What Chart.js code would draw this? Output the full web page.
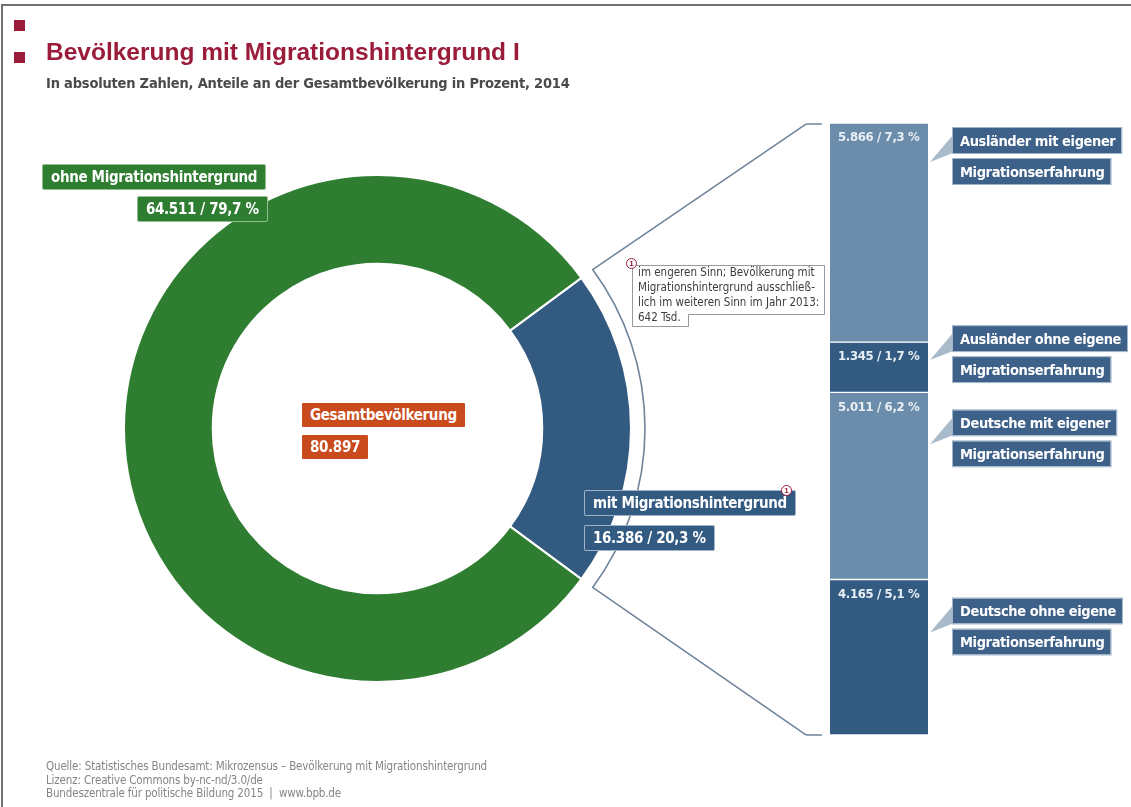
<!DOCTYPE html>
<html lang="de">
<head>
<meta charset="utf-8">
<script src="https://cdn.jsdelivr.net/npm/chart.js@4.4.1/dist/chart.umd.min.js"></script>
<style>
  body { margin: 0; background: #fff; }
  #page { position: relative; width: 1131px; height: 807px; overflow: hidden; background: #fff;
          font-family: "Liberation Sans", Arial, sans-serif; }
  #frame { position: absolute; left: 1px; top: 4px; right: -4px; bottom: -4px;
           border-left: 2px solid #707070; border-top: 2px solid #707070; }
  canvas { position: absolute; left: 0; top: 0; }
  .sq { position: absolute; left: 14px; width: 11px; height: 11px; background: #9b1b3a; }
  #title { position: absolute; left: 46px; top: 38px; font: bold 24.5px "Liberation Sans", Arial, sans-serif;
           color: #9b1b3a; white-space: nowrap; }
  #subtitle { position: absolute; left: 46px; top: 75px; font: bold 14.5px "DejaVu Sans Condensed", sans-serif;
              letter-spacing: -0.2px; color: #4a4a4a; white-space: nowrap; }
  #footer { position: absolute; left: 46px; top: 760px; font: 11.5px/13.5px "DejaVu Sans Condensed", sans-serif;
            letter-spacing: -0.15px; color: #858585; white-space: nowrap; }
  .tag { position: absolute; height: 24px; padding: 0 8px; color: #fff; white-space: nowrap; overflow: hidden;
         font: bold 15px/25px "DejaVu Sans Condensed", sans-serif; letter-spacing: -0.35px; border-radius: 1px; }
  .green { background: #2e7d31; box-shadow: 0 0 0 1px #8fbf90; }
  .orange { background: #c94a1c; }
  .blue { background: #335b82; box-shadow: 0 0 0 1px #9fb4c8; }
  .fn { position: absolute; width: 9px; height: 9px; border: 1.5px solid #9b1b3a; border-radius: 50%; background: #fff;
        color: #9b1b3a; font: bold 8px/9px "Liberation Sans", Arial, sans-serif; text-align: center; }
  #note { position: absolute; left: 638px; top: 265px; font: 11.5px/15px "DejaVu Sans Condensed", sans-serif;
          color: #3c3c3c; white-space: nowrap; }
  svg { position: absolute; left: 0; top: 0; }
</style>
</head>
<body>
<div id="page">
  <div id="frame"></div>
  <canvas id="donut" width="1131" height="807"></canvas>
  <canvas id="stack" width="1131" height="807"></canvas>
  <div class="sq" style="top:20px"></div>
  <div class="sq" style="top:52px"></div>
  <div id="title">Bevölkerung mit Migrationshintergrund I</div>
  <div id="subtitle">In absoluten Zahlen, Anteile an der Gesamtbevölkerung in Prozent, 2014</div>

  <div id="lblOhne" class="tag green" style="left:43px; top:165px"></div>
  <div id="valOhne" class="tag green" style="left:138px; top:197px"></div>
  <div id="lblTotal" class="tag orange" style="left:302px; top:403px"></div>
  <div id="valTotal" class="tag orange" style="left:302px; top:435px"></div>
  <div id="lblMit" class="tag blue" style="left:585px; top:491px"></div>
  <div id="valMit" class="tag blue" style="left:585px; top:526px"></div>
  <div class="fn" style="left:781px; top:485px">1</div>

  <svg width="1131" height="807"><path d="M632.5,265.5 H824.5 V314.5 H688.5 V326.5 H632.5 Z" fill="#fff" stroke="#9a9a9a" stroke-width="1"/></svg>
  <div id="note"></div>
  <div class="fn" style="left:626px; top:258px">1</div>

  <div id="footer"></div>
</div>
<script>
// Werte in Tausend
const mainLabels = ['mit Migrationshintergrund', 'ohne Migrationshintergrund'];
const mainValues = [16386, 64511];
const mainShares = [20.3, 79.7];
const totalLabel = 'Gesamtbevölkerung';
const totalValue = 80897;

const subLabels = [
  ['Ausländer mit eigener', 'Migrationserfahrung'],
  ['Ausländer ohne eigene', 'Migrationserfahrung'],
  ['Deutsche mit eigener', 'Migrationserfahrung'],
  ['Deutsche ohne eigene', 'Migrationserfahrung']
];
const subValues = [5866, 1345, 5011, 4165];
const subShares = [7.3, 1.7, 6.2, 5.1];

const noteLines = [
  'im engeren Sinn; Bevölkerung mit',
  'Migrationshintergrund ausschließ-',
  'lich im weiteren Sinn im Jahr 2013:',
  '642 Tsd.'
];
const footerLines = [
  'Quelle: Statistisches Bundesamt: Mikrozensus – Bevölkerung mit Migrationshintergrund',
  'Lizenz: Creative Commons by-nc-nd/3.0/de',
  'Bundeszentrale für politische Bildung 2015 &nbsp;|&nbsp; www.bpb.de'
];

const NARROW = '"DejaVu Sans Condensed", sans-serif';
const fmt = v => String(v).replace(/\B(?=(\d{3})+(?!\d))/g, '.');
const pct = v => v.toFixed(1).replace('.', ',') + ' %';

// texts
document.getElementById('lblOhne').textContent = mainLabels[1];
document.getElementById('valOhne').textContent = fmt(mainValues[1]) + ' / ' + pct(mainShares[1]);
document.getElementById('lblMit').textContent = mainLabels[0];
document.getElementById('valMit').textContent = fmt(mainValues[0]) + ' / ' + pct(mainShares[0]);
document.getElementById('lblTotal').textContent = totalLabel;
document.getElementById('valTotal').textContent = fmt(totalValue);
document.getElementById('note').innerHTML = noteLines.join('<br>');
document.getElementById('footer').innerHTML = footerLines.join('<br>');

// blue slice centred on 3 o'clock
const mitAngle = mainValues[0] / (mainValues[0] + mainValues[1]) * 360;

const donut = new Chart(document.getElementById('donut'), {
  type: 'doughnut',
  data: {
    labels: mainLabels,
    datasets: [{
      data: mainValues,
      backgroundColor: ['#335b82', '#2e7d31'],
      borderColor: '#fff',
      borderWidth: 2
    }]
  },
  options: {
    responsive: false,
    animation: false,
    rotation: 90 - mitAngle / 2,
    cutout: '65%',
    layout: { padding: { left: 123, top: 174, right: 499, bottom: 124 } },
    plugins: { legend: { display: false }, tooltip: { enabled: false } }
  }
});

const calloutShift = [5, -16, 18, 19];

const stackDeco = {
  id: 'stackDeco',
  beforeDatasetsDraw(chart) {
    // Verbindungslinie vom blauen Segment zum Balken
    const arc = donut.getDatasetMeta(0).data[0];
    const ctx = chart.ctx;
    const area = chart.chartArea;
    const r = arc.outerRadius + 14;
    const top = area.top + 1, bot = area.bottom;
    const sx = arc.x + r * Math.cos(arc.startAngle), sy = arc.y + r * Math.sin(arc.startAngle);
    ctx.save();
    ctx.strokeStyle = '#6f8499';
    ctx.lineWidth = 1.6;
    ctx.lineJoin = 'round';
    ctx.beginPath();
    ctx.moveTo(area.left - 8, top);
    ctx.arcTo(area.left - 24, top, sx, sy, 6);
    ctx.lineTo(sx, sy);
    ctx.arc(arc.x, arc.y, r, arc.startAngle, arc.endAngle);
    ctx.arcTo(area.left - 24, bot, area.left - 8, bot, 6);
    ctx.lineTo(area.left - 8, bot);
    ctx.stroke();
    ctx.restore();
  },
  afterDatasetsDraw(chart) {
    const ctx = chart.ctx;
    ctx.save();
    ctx.letterSpacing = '-0.35px';
    chart.data.datasets.forEach((ds, i) => {
      const bar = chart.getDatasetMeta(i).data[0];
      const segTop = Math.min(bar.y, bar.base);
      const left = bar.x - bar.width / 2, right = bar.x + bar.width / 2;
      ctx.font = 'bold 13px ' + NARROW;
      ctx.fillStyle = '#e9eff5';
      ctx.textBaseline = 'middle';
      ctx.fillText(fmt(subValues[i]) + ' / ' + pct(subShares[i]), left + 8, segTop + 15);

      const by = segTop + calloutShift[i];
      const bx = right + 25;
      ctx.fillStyle = '#a9bacb';
      ctx.beginPath();
      ctx.moveTo(bx, by + 7);
      ctx.lineTo(bx, by + 25);
      ctx.lineTo(right + 2, by + 34);
      ctx.closePath();
      ctx.fill();

      ctx.font = 'bold 14.5px ' + NARROW;
      ctx.letterSpacing = '-0.4px';
      subLabels[i].forEach((line, k) => {
        const y0 = by + k * 31;
        const w = ctx.measureText(line).width + 13;
        ctx.fillStyle = '#3d6189';
        ctx.fillRect(bx, y0, w, 25);
        ctx.strokeStyle = '#9fb4c8';
        ctx.lineWidth = 1;
        ctx.strokeRect(bx - 0.5, y0 - 0.5, w + 1, 26);
        ctx.fillStyle = '#fff';
        ctx.fillText(line, bx + 7, y0 + 14);
      });
      ctx.letterSpacing = '-0.35px';
    });
    ctx.restore();
  }
};

const segColors = ['#6b8dab', '#335b82', '#6b8dab', '#335b82'];

new Chart(document.getElementById('stack'), {
  type: 'bar',
  data: {
    labels: ['mit Migrationshintergrund'],
    datasets: subValues.map((v, i) => ({
      label: subLabels[i].join(' '),
      data: [v],
      backgroundColor: segColors[i],
      borderColor: '#fff',
      borderWidth: { top: 1, bottom: 1, left: 0, right: 0 },
      borderSkipped: false,
      barPercentage: 1,
      categoryPercentage: 1
    }))
  },
  options: {
    responsive: false,
    animation: false,
    layout: { padding: { left: 830, top: 123, right: 203, bottom: 72 } },
    scales: {
      x: { display: false, stacked: true },
      y: { display: false, stacked: true, reverse: true, min: 0, max: mainValues[0] }
    },
    plugins: { legend: { display: false }, tooltip: { enabled: false } }
  },
  plugins: [stackDeco]
});
</script>
</body>
</html>
